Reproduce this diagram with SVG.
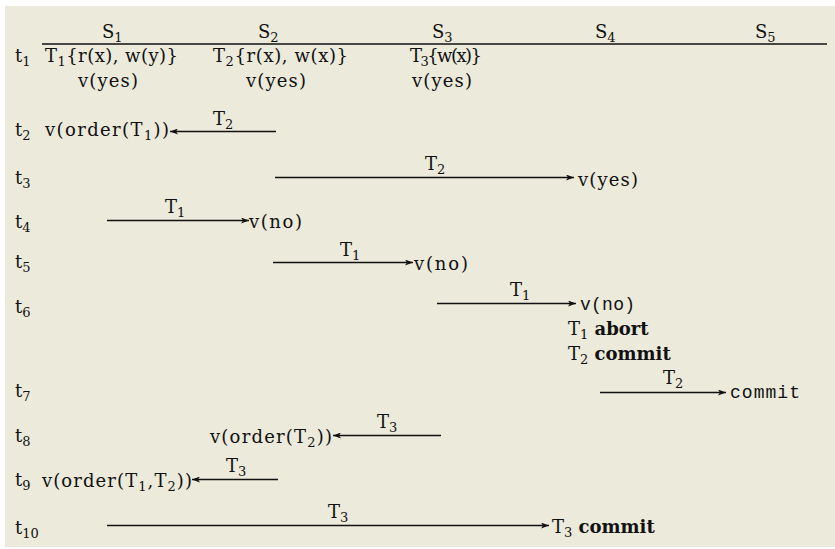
<svg xmlns="http://www.w3.org/2000/svg" width="835" height="549" viewBox="0 0 835 549">
<style>
text{font-family:"DejaVu Serif","Liberation Serif",serif;font-size:18px;fill:#111}
.m{font-family:"Liberation Mono","DejaVu Sans Mono",monospace;font-size:18px}
.b{font-weight:bold}
.s{font-size:13px}
.c line{stroke:#111;stroke-width:1.3}
.a{marker-end:url(#ah)}
</style>
<defs>
<marker id="ah" viewBox="0 0 8 6" refX="8" refY="3" markerWidth="8" markerHeight="6" markerUnits="userSpaceOnUse" orient="auto">
<path d="M0,0 L8,3 L0,6 L2,3 z" fill="#111"/>
</marker>
</defs>
<rect x="0" y="0" width="835" height="549" fill="#fff"/>
<rect x="5" y="6" width="830" height="541" fill="#EBEADB"/>

<g id="header">
<text x="102" y="38">S<tspan class="s" dy="4">1</tspan></text>
<text x="258" y="38">S<tspan class="s" dy="4">2</tspan></text>
<text x="432" y="38">S<tspan class="s" dy="4">3</tspan></text>
<text x="595" y="38">S<tspan class="s" dy="4">4</tspan></text>
<text x="755" y="38">S<tspan class="s" dy="4">5</tspan></text>
</g>

<g id="times">
<text x="15" y="62">t<tspan class="s" dy="4">1</tspan></text>
<text x="15" y="136">t<tspan class="s" dy="4">2</tspan></text>
<text x="15" y="184">t<tspan class="s" dy="4">3</tspan></text>
<text x="15" y="228">t<tspan class="s" dy="4">4</tspan></text>
<text x="15" y="268">t<tspan class="s" dy="4">5</tspan></text>
<text x="15" y="313">t<tspan class="s" dy="4">6</tspan></text>
<text x="15" y="397">t<tspan class="s" dy="4">7</tspan></text>
<text x="15" y="442">t<tspan class="s" dy="4">8</tspan></text>
<text x="15" y="486">t<tspan class="s" dy="4">9</tspan></text>
<text x="15" y="534">t<tspan class="s" dy="4">10</tspan></text>
</g>

<g id="s1-t1">
<text x="45" y="62" textLength="133" lengthAdjust="spacing">T<tspan class="s" dy="4">1</tspan><tspan dy="-4">{r(x), w(y)}</tspan></text>
<text x="78" y="87" textLength="60" lengthAdjust="spacing">v(yes)</text>
</g>
<g id="s2-t1">
<text x="213" y="62" textLength="135" lengthAdjust="spacing">T<tspan class="s" dy="4">2</tspan><tspan dy="-4">{r(x), w(x)}</tspan></text>
<text x="246" y="87" textLength="60" lengthAdjust="spacing">v(yes)</text>
</g>
<g id="s3-t1">
<text x="410" y="62" textLength="72" lengthAdjust="spacing">T<tspan class="s" dy="4">3</tspan><tspan dy="-4">{w(x)}</tspan></text>
<text x="412" y="87" textLength="60" lengthAdjust="spacing">v(yes)</text>
</g>

<g id="c" class="c">
<line class="a" x1="276" y1="131.5" x2="170" y2="131.5"/>
<line class="a" x1="275" y1="177.5" x2="574" y2="177.5"/>
<line class="a" x1="107" y1="220.5" x2="249" y2="220.5"/>
<line class="a" x1="273" y1="262.5" x2="413" y2="262.5"/>
<line class="a" x1="437" y1="303.5" x2="576" y2="303.5"/>
<line class="a" x1="600" y1="392.5" x2="726" y2="392.5"/>
<line class="a" x1="441" y1="435.5" x2="333" y2="435.5"/>
<line class="a" x1="278" y1="479.5" x2="192" y2="479.5"/>
<line class="a" x1="107" y1="525.5" x2="549" y2="525.5"/>
</g>

<g id="labels">
<text x="213" y="125">T<tspan class="s" dy="4">2</tspan></text>
<text x="425" y="170">T<tspan class="s" dy="4">2</tspan></text>
<text x="165" y="213">T<tspan class="s" dy="4">1</tspan></text>
<text x="340" y="256">T<tspan class="s" dy="4">1</tspan></text>
<text x="510" y="296">T<tspan class="s" dy="4">1</tspan></text>
<text x="663" y="384">T<tspan class="s" dy="4">2</tspan></text>
<text x="377" y="428">T<tspan class="s" dy="4">3</tspan></text>
<text x="226" y="472">T<tspan class="s" dy="4">3</tspan></text>
<text x="328" y="518">T<tspan class="s" dy="4">3</tspan></text>
</g>

<g id="r-t2"><text x="45" y="136" textLength="124" lengthAdjust="spacing">v(order(T<tspan class="s" dy="4">1</tspan><tspan dy="-4">))</tspan></text></g>
<g id="r-t3"><text x="578" y="186" textLength="60" lengthAdjust="spacing">v(yes)</text></g>
<g id="r-t4"><text x="249" y="228" textLength="53" lengthAdjust="spacing">v(no)</text></g>
<g id="r-t5"><text x="414" y="270" textLength="54" lengthAdjust="spacing">v(no)</text></g>
<g id="r-t6">
<text class="m" x="580" y="310" textLength="55" lengthAdjust="spacing">v(no)</text>
<text x="568" y="335">T<tspan class="s" dy="4">1</tspan><tspan class="b" dy="-4"> abort</tspan></text>
<text x="568" y="360">T<tspan class="s" dy="4">2</tspan><tspan class="b" dy="-4"> commit</tspan></text>
</g>
<g id="r-t7"><text class="m" x="730" y="398" textLength="70" lengthAdjust="spacing">commit</text></g>
<g id="r-t8"><text x="210" y="443" textLength="122" lengthAdjust="spacing">v(order(T<tspan class="s" dy="4">2</tspan><tspan dy="-4">))</tspan></text></g>
<g id="r-t9"><text x="42" y="487" textLength="150" lengthAdjust="spacing">v(order(T<tspan class="s" dy="4">1</tspan><tspan dy="-4">,T</tspan><tspan class="s" dy="4">2</tspan><tspan dy="-4">))</tspan></text></g>
<g id="r-t10"><text x="552" y="533">T<tspan class="s" dy="4">3</tspan><tspan class="b" dy="-4"> commit</tspan></text></g>

<line x1="42" y1="44" x2="827" y2="44" stroke="#111" stroke-width="1.5"/>
</svg>
